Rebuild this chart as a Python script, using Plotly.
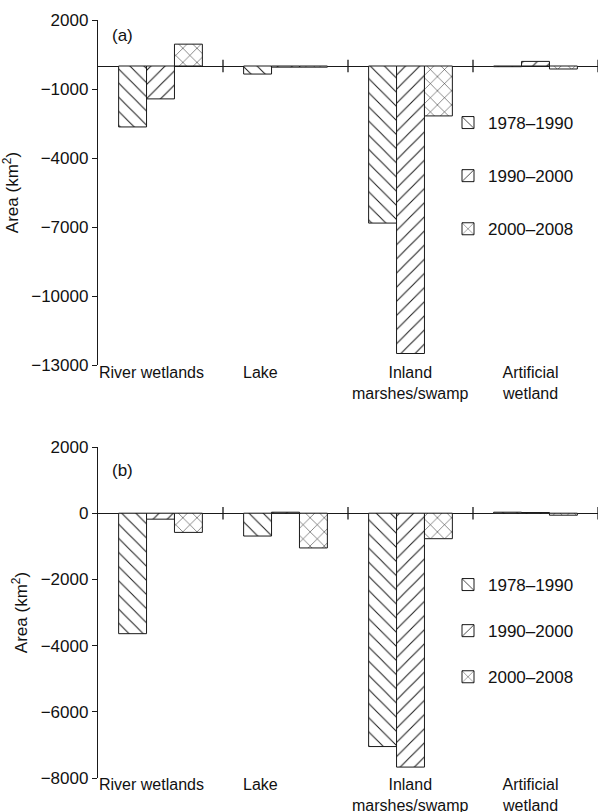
import plotly.graph_objects as go

categories = ["River wetlands", "Lake", "Inland<br>marshes/swamp", "Artificial<br>wetland"]
periods = ["1978–1990", "1990–2000", "2000–2008"]

# Panel (a) values (km²)
a_1978_1990 = [-2650, -350, -6830, -30]
a_1990_2000 = [-1430, -50, -12500, 200]
a_2000_2008 = [950, -50, -2170, -130]

# Panel (b) values (km²)
b_1978_1990 = [-3640, -690, -7050, 30]
b_1990_2000 = [-180, 30, -7670, 20]
b_2000_2008 = [-580, -1050, -770, -60]

a_ticks = [2000, -1000, -4000, -7000, -10000, -13000]
b_ticks = [2000, 0, -2000, -4000, -6000, -8000]

patterns = ["\\", "/", "x"]
psizes = [10, 10, 10]

FONT = "Liberation Sans, Arial, sans-serif"
INK = "#1a1a1a"
xpos = list(range(len(categories)))
bounds = [0.5, 1.5, 2.5, 3.5]

fig = go.Figure()

for series, xa, ya, leg in [
    ([a_1978_1990, a_1990_2000, a_2000_2008], "x", "y", "legend"),
    ([b_1978_1990, b_1990_2000, b_2000_2008], "x2", "y2", "legend2"),
]:
    for i, vals in enumerate(series):
        fig.add_trace(go.Bar(
            x=xpos, y=vals, name=periods[i], xaxis=xa, yaxis=ya,
            legend=leg, legendgroup=leg + str(i), offsetgroup=str(i),
            marker=dict(color="white", line=dict(color=INK, width=1),
                        pattern=dict(shape=patterns[i], fgcolor=INK, fgopacity=1,
                                     bgcolor="white", size=psizes[i], solidity=0.1)),
        ))
    fig.add_trace(go.Scatter(
        x=bounds, y=[0] * len(bounds), mode="markers", xaxis=xa, yaxis=ya,
        marker=dict(symbol="line-ns", size=9, line=dict(color=INK, width=1.3)),
        showlegend=False, hoverinfo="skip",
    ))

xdom = [98 / 608, 598 / 608]
ya_dom = [1 - 365 / 812, 1 - 20 / 812]
yb_dom = [1 - 778 / 812, 1 - 447 / 812]

common_x = dict(range=[-0.5, 3.5], showticklabels=False, showline=False,
                showgrid=False, zeroline=False, ticks="", domain=xdom,
                automargin=False)
common_y = dict(showline=True, linecolor=INK, linewidth=1.3, ticks="outside",
                ticklen=5, tickcolor=INK, showgrid=False, zeroline=True,
                zerolinecolor=INK, zerolinewidth=1.3, automargin=False,
                tickfont=dict(family=FONT, size=17, color="#111"),
                title=dict(text="Area (km<sup>2</sup>)",
                           font=dict(family=FONT, size=17, color="#111"), standoff=8))

fig.update_layout(
    width=608, height=812, margin=dict(l=0, r=0, t=0, b=0, autoexpand=False),
    paper_bgcolor="white", plot_bgcolor="white",
    barmode="group", bargap=0.33, bargroupgap=0,
    xaxis=dict(**common_x, anchor="y"),
    xaxis2=dict(**common_x, anchor="y2"),
    yaxis=dict(**common_y, domain=ya_dom, range=[-13000, 2000], tickvals=a_ticks,
               ticktext=[f"{t}".replace("-", "−") for t in a_ticks], anchor="x"),
    yaxis2=dict(**common_y, domain=yb_dom, range=[-8000, 2000], tickvals=b_ticks,
                ticktext=[f"{t}".replace("-", "−") for t in b_ticks], anchor="x2"),
    legend=dict(x=448 / 608, y=1 - 105 / 812, xanchor="left", yanchor="top",
                font=dict(family=FONT, size=17, color="#111"), tracegroupgap=28,
                bgcolor="rgba(0,0,0,0)", itemwidth=30),
    legend2=dict(x=448 / 608, y=1 - 567 / 812, xanchor="left", yanchor="top",
                 font=dict(family=FONT, size=17, color="#111"), tracegroupgap=21,
                 bgcolor="rgba(0,0,0,0)", itemwidth=30),
    showlegend=True,
)

# panel letters
fig.add_annotation(x=110 / 608, y=1 - 35 / 812, xref="paper", yref="paper",
                   text="(a)", showarrow=False, xanchor="left", yanchor="middle",
                   font=dict(family=FONT, size=17, color="#111"))
fig.add_annotation(x=110 / 608, y=1 - 470 / 812, xref="paper", yref="paper",
                   text="(b)", showarrow=False, xanchor="left", yanchor="middle",
                   font=dict(family=FONT, size=17, color="#111"))

# category labels
label_x = [-0.07, 0.8, 2.0, 2.96]
for xr, ytop in [("x", 1 - 362 / 812), ("x2", 1 - 774 / 812)]:
    for cx, cat in zip(label_x, categories):
        fig.add_annotation(x=cx, y=ytop, xref=xr, yref="paper", text=cat,
                           showarrow=False, xanchor="center", yanchor="top",
                           align="center",
                           font=dict(family=FONT, size=16, color="#111"))

fig.write_html("out.html")
